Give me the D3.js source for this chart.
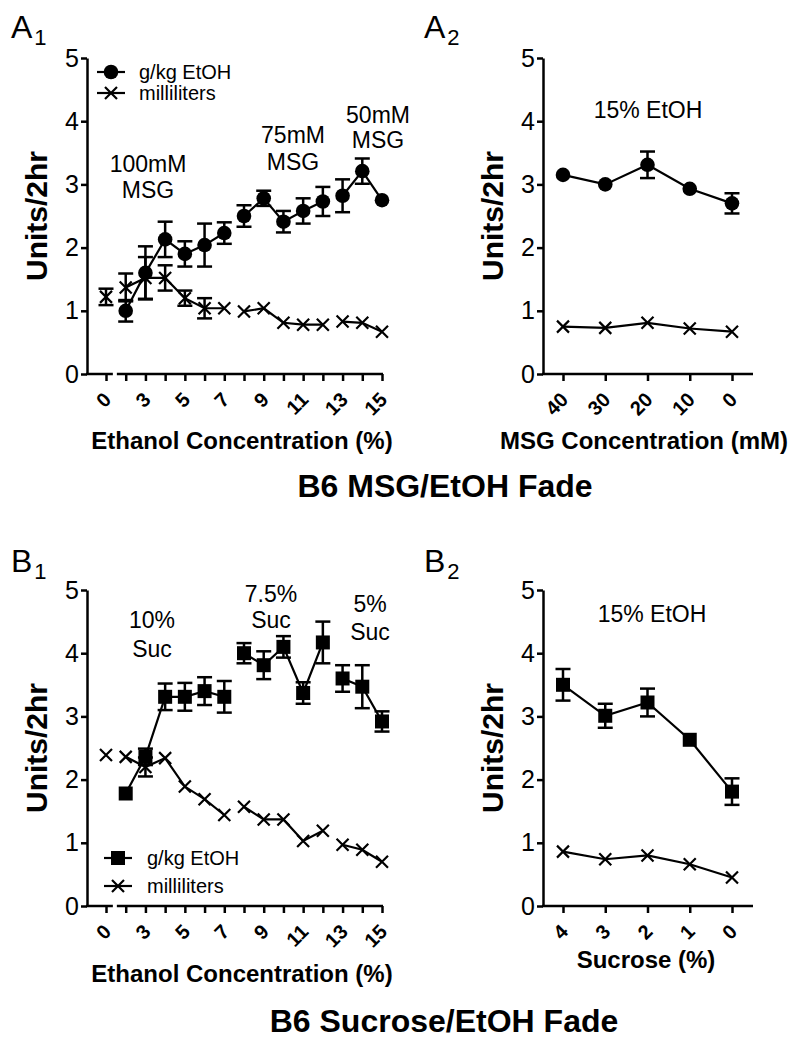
<!DOCTYPE html>
<html>
<head>
<meta charset="utf-8">
<script src="https://cdn.jsdelivr.net/npm/d3@7"></script>
<style>
  html, body { margin: 0; padding: 0; background: #fff; }
  svg { display: block; }
</style>
</head>
<body>
<svg id="chart" width="799" height="1050"></svg>
<script>
// ---------- DATA ----------
// Panel A1: MSG/EtOH fade, ethanol concentration (%)
const a1Cats = ["0","2","3","4","5","6","7","8","9","10","11","12","13","14","15"];
const a1TickLabels = ["0","3","5","7","9","11","13","15"];
const a1Phase = [0,1,1,1,1,1,1,2,2,2,2,2,3,3,3];
const a1Gkg    = [null,1.00,1.60,2.13,1.90,2.04,2.23,2.50,2.78,2.41,2.58,2.73,2.82,3.21,2.75];
const a1GkgErr = [null,0.17,0.42,0.28,0.20,0.34,0.17,0.17,0.12,0.17,0.20,0.23,0.26,0.20,0];
const a1Ml     = [1.22,1.37,1.52,1.52,1.20,1.04,1.04,0.99,1.04,0.81,0.78,0.78,0.83,0.81,0.67];
const a1MlErr  = [0.13,0.22,0.33,0.20,0.12,0.16,0,0,0,0,0,0,0,0,0];
const a1Notes  = [["100mM","MSG"],["75mM","MSG"],["50mM","MSG"]];

// Panel A2: 15% EtOH, MSG concentration (mM)
const a2Cats   = ["40","30","20","10","0"];
const a2Gkg    = [3.15,3.00,3.31,2.93,2.70];
const a2GkgErr = [0,0,0.21,0,0.16];
const a2Ml     = [0.75,0.73,0.81,0.72,0.67];
const a2MlErr  = [0,0,0,0,0];

// Panel B1: Sucrose/EtOH fade, ethanol concentration (%)
const b1Cats = a1Cats;
const b1TickLabels = a1TickLabels;
const b1Phase = [0,1,1,1,1,1,1,2,2,2,2,2,3,3,3];
const b1Gkg    = [null,1.78,2.36,3.31,3.31,3.40,3.31,4.00,3.81,4.10,3.37,4.17,3.60,3.47,2.92];
const b1GkgErr = [null,0,0.13,0.21,0.22,0.22,0.25,0.16,0.22,0.17,0.17,0.33,0.21,0.34,0.16];
const b1Ml     = [2.39,2.36,2.20,2.34,1.89,1.69,1.44,1.57,1.37,1.37,1.03,1.19,0.97,0.89,0.70];
const b1MlErr  = [0,0,0.15,0,0,0,0,0,0,0,0,0,0,0,0];
const b1Notes  = [["10%","Suc"],["7.5%","Suc"],["5%","Suc"]];

// Panel B2: 15% EtOH, sucrose (%)
const b2Cats   = ["4","3","2","1","0"];
const b2Gkg    = [3.50,3.01,3.22,2.63,1.81];
const b2GkgErr = [0.25,0.19,0.22,0,0.21];
const b2Ml     = [0.86,0.74,0.80,0.66,0.45];
const b2MlErr  = [0,0,0,0,0];

const yTicks = [0,1,2,3,4,5];
const seriesNames = ["g/kg EtOH","milliliters"];

// ---------- DRAWING ----------
const FONT = "'Liberation Sans', Arial, Helvetica, sans-serif";
const svg = d3.select("#chart");
svg.append("rect").attr("width",799).attr("height",1050).attr("fill","#fff");

function drawPanel(o) {
  const g = svg.append("g");
  const y = d3.scaleLinear().domain([0,5]).range([o.bottom, o.top]);
  const x = d3.scalePoint().domain(o.cats).range(o.xRange);

  // y axis
  const ya = g.append("g").attr("transform",`translate(${o.left},0)`)
    .call(d3.axisLeft(y).tickValues(yTicks).tickSize(6).tickSizeOuter(0).tickPadding(2).tickFormat(d3.format("d")));
  ya.select(".domain").attr("stroke-width",2.5);
  ya.selectAll(".tick line").attr("stroke-width",2.5);
  ya.selectAll(".tick text").attr("font-family",FONT).attr("font-size",25).attr("fill","#000");

  // x axis
  const xa = g.append("g").attr("transform",`translate(0,${o.bottom})`)
    .call(d3.axisBottom(x).tickSize(7).tickSizeOuter(0)
      .tickFormat(d => o.labels.includes(d) ? d : ""));
  xa.select(".domain").remove();
  xa.selectAll(".tick line").attr("stroke-width",2.5);
  xa.selectAll(".tick text")
    .attr("font-family",FONT).attr("font-size",20).attr("font-weight","bold").attr("fill","#000")
    .attr("x",0).attr("y",0).attr("dy","0.35em")
    .attr("text-anchor","end")
    .attr("transform","translate(1,22) rotate(-45)");
  // x axis line (broken after first category if needed)
  if (o.broken) {
    const mid = (x(o.cats[0]) + x(o.cats[1])) / 2;
    g.append("line").attr("x1",o.left-1).attr("x2",mid-3).attr("y1",o.bottom).attr("y2",o.bottom)
      .attr("stroke","#000").attr("stroke-width",2.5);
    g.append("line").attr("x1",mid+1).attr("x2",o.right).attr("y1",o.bottom).attr("y2",o.bottom)
      .attr("stroke","#000").attr("stroke-width",2.5);
  } else {
    g.append("line").attr("x1",o.left-1).attr("x2",o.right).attr("y1",o.bottom).attr("y2",o.bottom)
      .attr("stroke","#000").attr("stroke-width",2.5);
  }

  // titles
  g.append("text").attr("font-family",FONT).attr("font-size",30).attr("font-weight","bold")
    .attr("text-anchor","middle")
    .attr("transform",`translate(${o.left-40},${(o.top+o.bottom)/2}) rotate(-90)`)
    .text("Units/2hr");
  g.append("text").attr("font-family",FONT).attr("font-size",24).attr("font-weight","bold")
    .attr("text-anchor","middle").attr("x",o.xTitleX).attr("y",o.xTitleY).text(o.xTitle);

  // panel label
  const pl = g.append("text").attr("font-family",FONT).attr("x",o.labelX).attr("y",o.labelY);
  pl.append("tspan").attr("font-size",32).text(o.label[0]);
  pl.append("tspan").attr("font-size",22).attr("dx",2).attr("dy",7).text(o.label[1]);

  // series
  const line = d3.line().x(d => x(d.c)).y(d => y(d.v));
  const series = [
    {vals:o.gkg, err:o.gkgErr, marker:o.marker},
    {vals:o.ml, err:o.mlErr, marker:"x"}
  ];
  series.forEach(s => {
    const pts = o.cats.map((c,i) => ({c, v:s.vals[i], e:s.err[i], p:o.phase ? o.phase[i] : 0}))
      .filter(d => d.v !== null);
    const phases = Array.from(new Set(pts.map(d => d.p)));
    phases.forEach(p => {
      const seg = pts.filter(d => d.p === p);
      if (seg.length > 1)
        g.append("path").attr("d",line(seg)).attr("fill","none").attr("stroke","#000").attr("stroke-width",2.2);
    });
    // error bars
    pts.filter(d => d.e > 0).forEach(d => {
      const cx = x(d.c), y1 = y(d.v - d.e), y2 = y(d.v + d.e);
      g.append("line").attr("x1",cx).attr("x2",cx).attr("y1",y1).attr("y2",y2).attr("stroke","#000").attr("stroke-width",2.5);
      [y1,y2].forEach(yy => g.append("line").attr("x1",cx-7.5).attr("x2",cx+7.5).attr("y1",yy).attr("y2",yy)
        .attr("stroke","#000").attr("stroke-width",2.5));
    });
    pts.forEach(d => drawMarker(g, s.marker, x(d.c), y(d.v)));
  });

  // annotations
  o.notes.forEach(n => {
    const t = g.append("text").attr("font-family",FONT).attr("font-size",23).attr("text-anchor","middle");
    n.lines.forEach((ln,i) => t.append("tspan").attr("x",n.x).attr("y",n.y[i]).text(ln));
  });

  // legend
  if (o.legend) {
    const L = o.legend;
    [o.marker,"x"].forEach((m,i) => {
      const yy = L.y[i];
      g.append("line").attr("x1",L.x-14).attr("x2",L.x+14).attr("y1",yy).attr("y2",yy)
        .attr("stroke","#000").attr("stroke-width",2.2);
      drawMarker(g, m, L.x, yy);
      g.append("text").attr("font-family",FONT).attr("font-size",20).attr("x",L.tx).attr("y",yy)
        .attr("dy","0.35em").text(seriesNames[i]);
    });
  }
}

function drawMarker(g, m, cx, cy) {
  if (m === "circle") {
    g.append("circle").attr("cx",cx).attr("cy",cy).attr("r",7.3).attr("fill","#000");
  } else if (m === "square") {
    g.append("rect").attr("x",cx-7).attr("y",cy-7).attr("width",14).attr("height",14).attr("fill","#000");
  } else {
    const s = 6;
    g.append("path").attr("d",`M${cx-s},${cy-s}L${cx+s},${cy+s}M${cx-s},${cy+s}L${cx+s},${cy-s}`)
      .attr("stroke","#000").attr("stroke-width",2.2).attr("fill","none");
  }
}

drawPanel({
  left:87, right:383, top:58, bottom:374, xRange:[106,382], broken:true,
  cats:a1Cats, labels:a1TickLabels, phase:a1Phase,
  gkg:a1Gkg, gkgErr:a1GkgErr, ml:a1Ml, mlErr:a1MlErr, marker:"circle",
  xTitle:"Ethanol Concentration (%)", xTitleX:242, xTitleY:449,
  label:["A","1"], labelX:11, labelY:38,
  notes:[
    {lines:a1Notes[0], x:148, y:[172,198]},
    {lines:a1Notes[1], x:293, y:[143,170]},
    {lines:a1Notes[2], x:378, y:[123,148]}
  ],
  legend:{x:111, y:[72,93], tx:139}
});
drawPanel({
  left:543, right:753, top:58, bottom:374, xRange:[563,732], broken:false,
  cats:a2Cats, labels:a2Cats, phase:null,
  gkg:a2Gkg, gkgErr:a2GkgErr, ml:a2Ml, mlErr:a2MlErr, marker:"circle",
  xTitle:"MSG Concentration (mM)", xTitleX:644, xTitleY:449,
  label:["A","2"], labelX:424, labelY:38,
  notes:[{lines:["15% EtOH"], x:648, y:[118]}],
  legend:null
});
drawPanel({
  left:87, right:383, top:590, bottom:906, xRange:[106,382], broken:true,
  cats:b1Cats, labels:b1TickLabels, phase:b1Phase,
  gkg:b1Gkg, gkgErr:b1GkgErr, ml:b1Ml, mlErr:b1MlErr, marker:"square",
  xTitle:"Ethanol Concentration (%)", xTitleX:242, xTitleY:982,
  label:["B","1"], labelX:11, labelY:572,
  notes:[
    {lines:b1Notes[0], x:152, y:[628,657]},
    {lines:b1Notes[1], x:271, y:[602,628]},
    {lines:b1Notes[2], x:370, y:[612,640]}
  ],
  legend:{x:118, y:[858,886], tx:147}
});
drawPanel({
  left:543, right:753, top:590, bottom:906, xRange:[563,732], broken:false,
  cats:b2Cats, labels:b2Cats, phase:null,
  gkg:b2Gkg, gkgErr:b2GkgErr, ml:b2Ml, mlErr:b2MlErr, marker:"square",
  xTitle:"Sucrose (%)", xTitleX:646, xTitleY:968,
  label:["B","2"], labelX:424, labelY:572,
  notes:[{lines:["15% EtOH"], x:652, y:[622]}],
  legend:null
});

// figure titles
svg.append("text").attr("font-family",FONT).attr("font-size",32).attr("font-weight","bold")
  .attr("text-anchor","middle").attr("x",445).attr("y",497).text("B6 MSG/EtOH Fade");
svg.append("text").attr("font-family",FONT).attr("font-size",32).attr("font-weight","bold")
  .attr("text-anchor","middle").attr("x",444).attr("y",1032).text("B6 Sucrose/EtOH Fade");
</script>
</body>
</html>
